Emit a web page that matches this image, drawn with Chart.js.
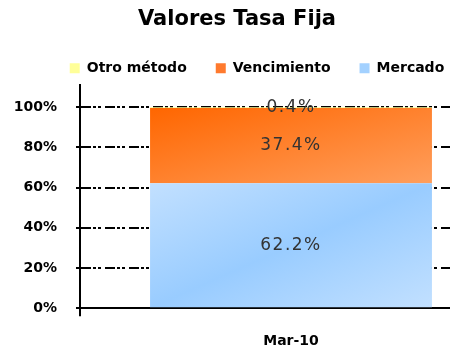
<!DOCTYPE html>
<html>
<head>
<meta charset="utf-8">
<script src="https://cdn.jsdelivr.net/npm/chart.js@4.4.1/dist/chart.umd.min.js"></script>
<style>
  html, body { margin: 0; padding: 0; overflow: hidden; background: #fff; }
  #wrap { width: 450px; height: 345px; overflow: hidden; position: relative; }
  canvas { display: block; }
</style>
</head>
<body>
<div id="wrap"><canvas id="c" width="510" height="371"></canvas></div>
<script>
// Composición de la cartera de tasa fija por método de valoración (%)
const categories = ['Mar-10'];
const mercado = [62.2];
const vencimiento = [37.4];
const otroMetodo = [0.4];
const yTickValues = [0, 20, 40, 60, 80, 100];

const swatch = { otro: '#FFFF99', venc: '#FF7A2E', merc: '#A3D1FF' };
const BAR_PCT = 0.668;

Chart.defaults.font.family = '"DejaVu Sans", sans-serif';
Chart.defaults.color = '#000';

// Corner-to-corner gradient across one bar segment
function cornerGradient(context, stops) {
  const chart = context.chart;
  const xs = chart.scales.x, ys = chart.scales.y;
  if (!chart.chartArea || !xs || !ys) return stops[0][1];
  const ds = chart.data.datasets;
  let base = 0;
  for (let i = 0; i < context.datasetIndex; i++) base += ds[i].data[context.dataIndex];
  const val = ds[context.datasetIndex].data[context.dataIndex];
  const band = (xs.right - xs.left) / categories.length;
  const cx = xs.getPixelForValue(context.dataIndex);
  const left = cx - band * BAR_PCT / 2, right = cx + band * BAR_PCT / 2;
  const top = ys.getPixelForValue(base + val), bottom = ys.getPixelForValue(base);
  const w = right - left, h = Math.max(bottom - top, 1);
  const k = 2 * w * h / (w * w + h * h);
  const g = chart.ctx.createLinearGradient(left, top, left + h * k, top + w * k);
  stops.forEach(s => g.addColorStop(s[0], s[1]));
  return g;
}

const valueLabels = {
  id: 'valueLabels',
  afterDatasetsDraw(chart) {
    const ctx = chart.ctx;
    ctx.save();
    ctx.font = '17px "DejaVu Sans"';
    ctx.letterSpacing = '1.5px';
    ctx.fillStyle = '#333';
    ctx.textAlign = 'center';
    ctx.textBaseline = 'middle';
    chart.data.datasets.forEach((ds, i) => {
      chart.getDatasetMeta(i).data.forEach((el, j) => {
        const p = el.getCenterPoint();
        ctx.fillText(ds.data[j].toFixed(1) + '%', p.x, p.y);
      });
    });
    ctx.restore();
  }
};

// Title sits a little left of the legend's centre
const titleShift = {
  id: 'titleShift',
  afterLayout(chart) {
    if (chart.titleBlock) chart.titleBlock.left -= 40;
  }
};

new Chart(document.getElementById('c'), {
  type: 'bar',
  data: {
    labels: categories,
    datasets: [
      { label: 'Mercado', data: mercado,
        backgroundColor: c => cornerGradient(c, [[0, '#C2E0FF'], [0.5, '#99CCFF'], [1, '#C2E0FF']]) },
      { label: 'Vencimiento', data: vencimiento,
        backgroundColor: c => cornerGradient(c, [[0, '#FF6600'], [1, '#FF9E5C']]) },
      { label: 'Otro método', data: otroMetodo, backgroundColor: swatch.otro }
    ]
  },
  options: {
    responsive: false,
    devicePixelRatio: 1,
    animation: false,
    layout: { padding: { left: 12, right: 8, top: 0, bottom: 4 } },
    datasets: { bar: { categoryPercentage: 1, barPercentage: BAR_PCT, borderWidth: 0 } },
    plugins: {
      title: {
        display: true, text: 'Valores Tasa Fija', color: '#000',
        font: { size: 21, weight: 'bold' }, padding: { top: 7, bottom: 0 }
      },
      legend: {
        reverse: true,
        labels: {
          boxWidth: 10, boxHeight: 10, padding: 29, color: '#000',
          font: { size: 14, weight: 'bold' },
          generateLabels(chart) {
            const cols = [swatch.merc, swatch.venc, swatch.otro];
            return chart.data.datasets.map((d, i) => ({
              text: d.label, fillStyle: cols[i], strokeStyle: cols[i], lineWidth: 0,
              datasetIndex: i, hidden: false
            }));
          }
        }
      },
      tooltip: { enabled: false }
    },
    scales: {
      x: {
        stacked: true,
        border: { display: true, color: '#000', width: 2 },
        grid: { display: true, drawOnChartArea: false, drawTicks: true, tickLength: 8,
                color: '#000', lineWidth: 2, offset: true },
        ticks: { padding: 17, color: '#000', font: { size: 14, weight: 'bold' } }
      },
      y: {
        stacked: true,
        min: 0, max: 111,
        afterBuildTicks(scale) { scale.ticks = yTickValues.map(v => ({ value: v })); },
        afterFit(scale) { scale.width = 68; },
        border: { display: true, color: '#000', width: 2, dash: [10, 2, 3, 2, 3, 4] },
        grid: { color: '#000', lineWidth: 2,
                tickLength: 4, tickColor: '#000', tickWidth: 2, tickBorderDash: [] },
        ticks: { padding: 19, color: '#000', font: { size: 14, weight: 'bold' },
                 callback: v => v + '%' }
      }
    }
  },
  plugins: [valueLabels, titleShift]
});
</script>
</body>
</html>
